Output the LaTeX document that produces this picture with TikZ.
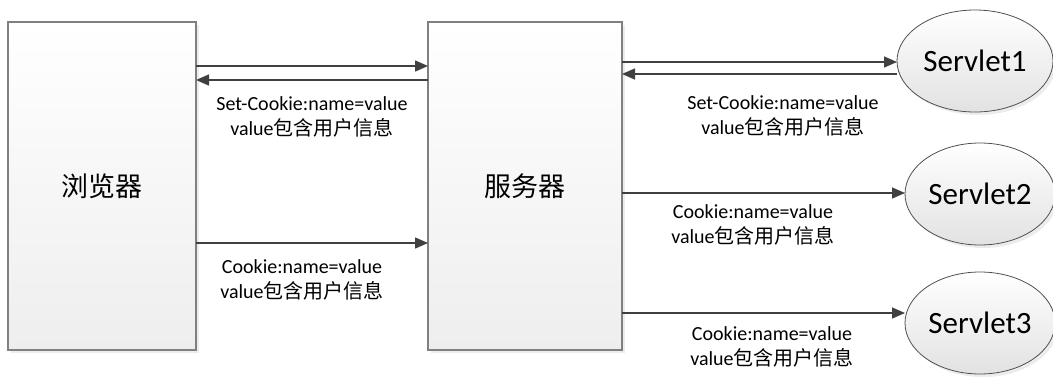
\documentclass[tikz,border=0pt]{standalone}
\usepackage{fontspec}
\setmainfont{Carlito}
\newfontfamily\cjk{Noto Sans CJK SC}
\usetikzlibrary{arrows.meta,shadows,calc,shapes.geometric}
\definecolor{boxline}{RGB}{128,128,128}
\definecolor{boxbot}{RGB}{238,238,238}
\definecolor{ellline}{RGB}{80,80,80}
\definecolor{ellbot}{RGB}{226,226,226}
\definecolor{arrcol}{RGB}{64,64,64}
\begin{document}
\begin{tikzpicture}[x=1pt,y=-1pt,
  box/.style={draw=boxline, line width=1.2pt, top color=white, bottom color=boxbot,
    minimum width=#1, minimum height=328pt, inner sep=0pt, outer sep=0pt,
    drop shadow={shadow xshift=3pt,shadow yshift=-3pt,opacity=0.15},
    font=\cjk\fontsize{27}{32}\selectfont},
  servlet/.style={ellipse, draw=ellline, line width=0.8pt, top color=white, bottom color=ellbot,
    minimum width=156pt, minimum height=102pt, inner sep=0pt, outer sep=0pt,
    drop shadow={shadow xshift=3pt,shadow yshift=-3pt,opacity=0.15},
    font=\fontsize{31}{36}\selectfont},
  arr/.style={draw=arrcol, line width=1.5pt, -{Triangle[length=13pt,width=11pt]}},
  lbl/.style={font=\fontsize{20}{25}\selectfont, align=center, inner sep=0pt}
]
\useasboundingbox (0,0) rectangle (1053,376);

\node[box=188pt] (b) at (102,186) {浏览器};
\node[box=194pt] (s) at (525,186) {服务器};

\node[servlet] (s1) at (975,61) {Servlet1};
\node[servlet, minimum width=150pt] (s2) at (980,194) {Servlet2};
\node[servlet, minimum width=150pt] (s3) at (980,323) {Servlet3};

\draw[arr] (b.east |- 0,66) -- (s.west |- 0,66);
\draw[arr] (s.west |- 0,80) -- (b.east |- 0,80);
\draw[arr] (b.east |- 0,243) -- (s.west |- 0,243);

\draw[arr] (s.east |- 0,62) -- (s1.west |- 0,62);
\draw[arr] (s1.west |- 0,74) -- (s.east |- 0,74);
\draw[arr] (s.east |- 0,193) -- (s2.west |- 0,193);
\draw[arr] (s.east |- 0,313) -- (s3.west |- 0,313);

\node[lbl] (l1) at (312,117) {Set-Cookie:name=value\\value{\cjk 包含用户信息}};
\node[lbl] (l2) at (302,280) {Cookie:name=value\\value{\cjk 包含用户信息}};
\node[lbl] (l3) at (783,116) {Set-Cookie:name=value\\value{\cjk 包含用户信息}};
\node[lbl] (l4) at (753,225) {Cookie:name=value\\value{\cjk 包含用户信息}};
\node[lbl] (l5) at (772,347) {Cookie:name=value\\value{\cjk 包含用户信息}};
\end{tikzpicture}
\end{document}
